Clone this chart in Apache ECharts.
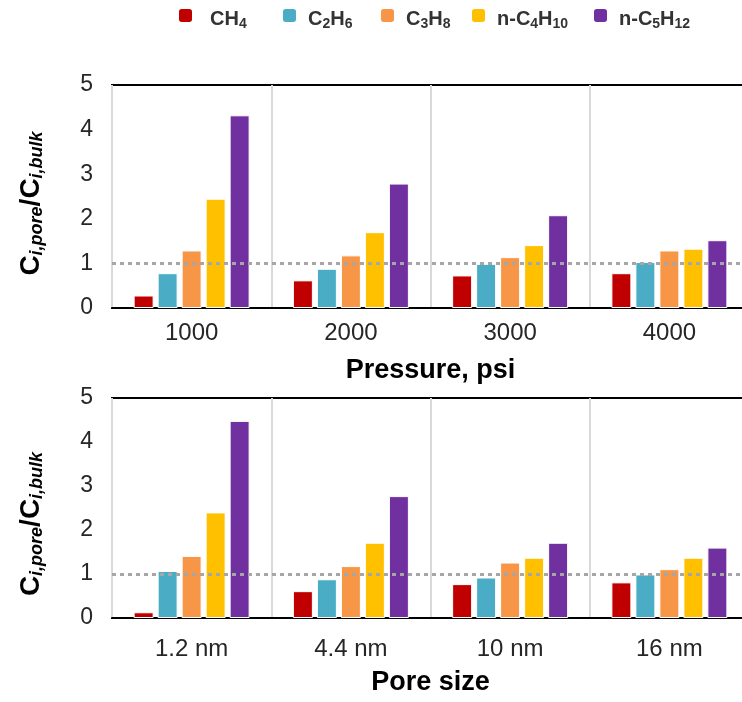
<!DOCTYPE html>
<html>
<head>
<meta charset="utf-8">
<script src="https://cdn.jsdelivr.net/npm/echarts@6/dist/echarts.min.js"></script>
<style>
html,body{margin:0;padding:0;background:#fff;}
#chart{width:742px;height:702px;}
</style>
</head>
<body>
<div id="chart"></div>
<script>
// ---- Data ----
const pressureCategories = ['1000', '2000', '3000', '4000'];
const poreCategories = ['1.2 nm', '4.4 nm', '10 nm', '16 nm'];
const seriesNames = ['CH4', 'C2H6', 'C3H8', 'n-C4H10', 'n-C5H12'];
const yTicks = [0, 1, 2, 3, 4, 5];
const referenceRatio = 1;

// Top chart (pressure)
const pressureCH4 = [0.28, 0.62, 0.73, 0.78];
const pressureC2H6 = [0.78, 0.88, 0.99, 1.03];
const pressureC3H8 = [1.29, 1.18, 1.14, 1.29];
const pressureNC4H10 = [2.45, 1.70, 1.41, 1.33];
const pressureNC5H12 = [4.32, 2.79, 2.08, 1.52];

// Bottom chart (pore size)
const poreCH4 = [0.13, 0.61, 0.77, 0.81];
const poreC2H6 = [1.07, 0.88, 0.92, 0.99];
const poreC3H8 = [1.41, 1.18, 1.26, 1.11];
const poreNC4H10 = [2.40, 1.71, 1.37, 1.37];
const poreNC5H12 = [4.48, 2.77, 1.71, 1.60];

// ---- Styling ----
const FONT = 'Liberation Sans, Arial, sans-serif';
const colors = ['#C00000', '#4BACC6', '#F79646', '#FFC000', '#7030A0'];
const legendRich = {
  t: { fontSize: 20, fontWeight: 'bold', color: '#333', fontFamily: FONT },
  sub: { fontSize: 14, fontWeight: 'bold', color: '#333', fontFamily: FONT, padding: [9, 0, 0, 0] }
};
const legendLabels = {
  'CH4': '{t|CH}{sub|4}',
  'C2H6': '{t|C}{sub|2}{t|H}{sub|6}',
  'C3H8': '{t|C}{sub|3}{t|H}{sub|8}',
  'n-C4H10': '{t|n-C}{sub|4}{t|H}{sub|10}',
  'n-C5H12': '{t|n-C}{sub|5}{t|H}{sub|12}'
};
const legendLefts = [177, 281, 379, 470, 592];
const legendTextGaps = [12, 6, 6, 6, 6];

const chart = echarts.init(document.getElementById('chart'), null, { renderer: 'canvas' });

const legends = seriesNames.map((n, i) => ({
  data: [n],
  left: legendLefts[i],
  top: 7,
  padding: 0,
  icon: 'roundRect',
  itemWidth: 15,
  itemHeight: 15,
  itemGap: 0,
  selectedMode: false,
  formatter: name => legendLabels[name],
  textStyle: { rich: legendRich, padding: [8, 0, 0, legendTextGaps[i]] }
}));

const yNameRich = {
  c: { fontSize: 28, fontWeight: 'bold', color: '#000', fontFamily: FONT },
  s: { fontSize: 18, fontWeight: 'bold', fontStyle: 'italic', color: '#000', fontFamily: FONT, padding: [11, 0, 0, 0] }
};

function makeGrid(top, height) {
  return { left: 112, top: top, width: 637, height: height, show: true, borderColor: '#000', borderWidth: 2, containLabel: false, outerBoundsMode: 'none' };
}

function makeXAxis(gridIndex, cats, name, margin, nameGap) {
  return {
    type: 'category', gridIndex: gridIndex, data: cats,
    name: name, nameLocation: 'middle', nameGap: nameGap,
    nameTextStyle: { fontSize: 27, fontWeight: 'bold', color: '#000', fontFamily: FONT },
    axisLine: { show: true, lineStyle: { color: '#000', width: 2 } },
    axisTick: { show: false },
    axisLabel: { fontSize: 24, color: '#262626', margin: margin, fontFamily: FONT },
    splitLine: { show: true, lineStyle: { color: '#d9d9d9', width: 2 } },
    z: 1
  };
}

function makeYAxis(gridIndex, shift) {
  return {
    type: 'value', gridIndex: gridIndex, min: yTicks[0], max: yTicks[yTicks.length - 1], interval: 1,
    name: '{c|C}{s|i,pore}{c|/C}{s|i,bulk}', nameLocation: 'middle', nameGap: 66, nameRotate: 90,
    nameTextStyle: { rich: yNameRich, padding: [0, shift, 0, 0] },
    axisLine: { show: true, lineStyle: { color: '#000', width: 2 } },
    axisTick: { show: false },
    axisLabel: { fontSize: 23, color: '#262626', margin: 19, fontFamily: FONT },
    splitLine: { show: false }
  };
}

const topData = [pressureCH4, pressureC2H6, pressureC3H8, pressureNC4H10, pressureNC5H12];
const bottomData = [poreCH4, poreC2H6, poreC3H8, poreNC4H10, poreNC5H12];

function makeSeries(dataSets, axisIndex) {
  return dataSets.map((d, i) => {
    const s = {
      name: seriesNames[i], type: 'bar', xAxisIndex: axisIndex, yAxisIndex: axisIndex,
      data: d, barWidth: 20, barGap: '20%',
      itemStyle: { color: colors[i], borderColor: '#fff', borderWidth: 1 },
      silent: true
    };
    if (i === 0) {
      s.markLine = {
        silent: true, symbol: 'none', label: { show: false },
        lineStyle: { color: '#a6a6a6', width: 3, type: [4, 4], cap: 'butt' },
        data: [{ yAxis: referenceRatio }],
        animation: false
      };
    }
    return s;
  });
}

chart.setOption({
  animation: false,
  color: colors,
  legend: legends,
  grid: [makeGrid(85, 223), makeGrid(398, 220)],
  xAxis: [makeXAxis(0, pressureCategories, 'Pressure, psi', 13, 49), makeXAxis(1, poreCategories, 'Pore size', 19, 51)],
  yAxis: [makeYAxis(0, 14), makeYAxis(1, 32)],
  series: makeSeries(topData, 0).concat(makeSeries(bottomData, 1))
});
</script>
</body>
</html>
